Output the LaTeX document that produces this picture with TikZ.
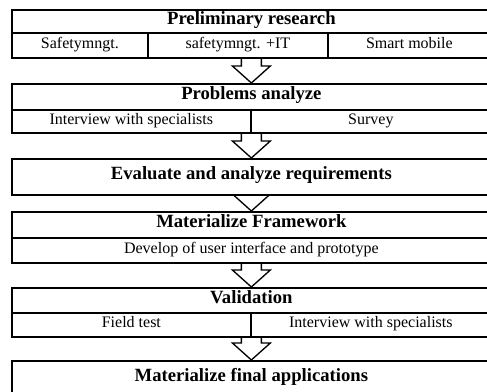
\documentclass[tikz,border=0pt]{standalone}
\usepackage{fontspec}
\setmainfont{Liberation Serif}
\usetikzlibrary{calc}
\pgfdeclarelayer{back}
\pgfsetlayers{back,main}

\tikzset{
  cell/.style={draw, line width=1.3pt, fill=white, inner sep=0pt,
               anchor=north west, text height=0.68em, text depth=0.22em,
               font=\fontsize{12}{14}\selectfont},
  headcell/.style={cell, font=\fontsize{14}{16}\selectfont\bfseries},
  size/.style 2 args={minimum width=#1*0.75pt, minimum height=#2*0.75pt},
  blockarrow/.style={draw, fill=white, line width=1pt, line join=miter},
}

% hollow block arrow from the box above (#1) down to the box below (#2)
\newcommand\stagearrow[2]{%
  \begin{pgfonlayer}{back}
    \draw[blockarrow]
      ($(#1.south -| #2.north)+(-10,-6)$) -- ($(#2.north)+(-10,-17)$)
      -- ($(#2.north)+(-19,-17)$) -- (#2.north)
      -- ($(#2.north)+(19,-17)$) -- ($(#2.north)+(10,-17)$)
      -- ($(#1.south -| #2.north)+(10,-6)$) -- cycle;
  \end{pgfonlayer}}

\begin{document}
\begin{tikzpicture}[x=0.75pt,y=-0.75pt]
  \useasboundingbox (0,0) rectangle (487,392);

  % stage 1
  \node[headcell, size={479}{23}] (s1)  at (11,9)   {Preliminary research};
  \node[cell, size={136}{25}]     (s1a) at (11,32)  {Safetymngt.};
  \node[cell, size={180}{25}]     (s1b) at (147,32) {safetymngt. +IT};
  \node[cell, size={163}{25}]     (s1c) at (327,32) {Smart mobile};

  % stage 2
  \node[headcell, size={479}{26}] (s2)  at (11,83)   {Problems analyze};
  \node[cell, size={239}{23}]     (s2a) at (11,109)  {Interview with specialists};
  \node[cell, size={240}{23}]     (s2b) at (250,109) {Survey};

  % stage 3
  \node[headcell, size={479}{36}] (s3)  at (11,158) {Evaluate and analyze requirements};

  % stage 4
  \node[headcell, size={479}{26}] (s4)  at (11,211) {Materialize Framework};
  \node[cell, size={479}{25}]     (s4a) at (11,237) {Develop of user interface and prototype};

  % stage 5
  \node[headcell, size={479}{25}] (s5)  at (11,287)  {Validation};
  \node[cell, size={239}{24}]     (s5a) at (11,312)  {Field test};
  \node[cell, size={240}{24}]     (s5b) at (250,312) {Interview with specialists};

  % stage 6
  \node[headcell, size={479}{35}] (s6)  at (11,360) {Materialize final applications};

  % flow between stages
  \stagearrow{s1b}{s2}
  \stagearrow{s2a}{s3}
  \stagearrow{s3}{s4}
  \stagearrow{s4a}{s5}
  \stagearrow{s5a}{s6}
\end{tikzpicture}
\end{document}
